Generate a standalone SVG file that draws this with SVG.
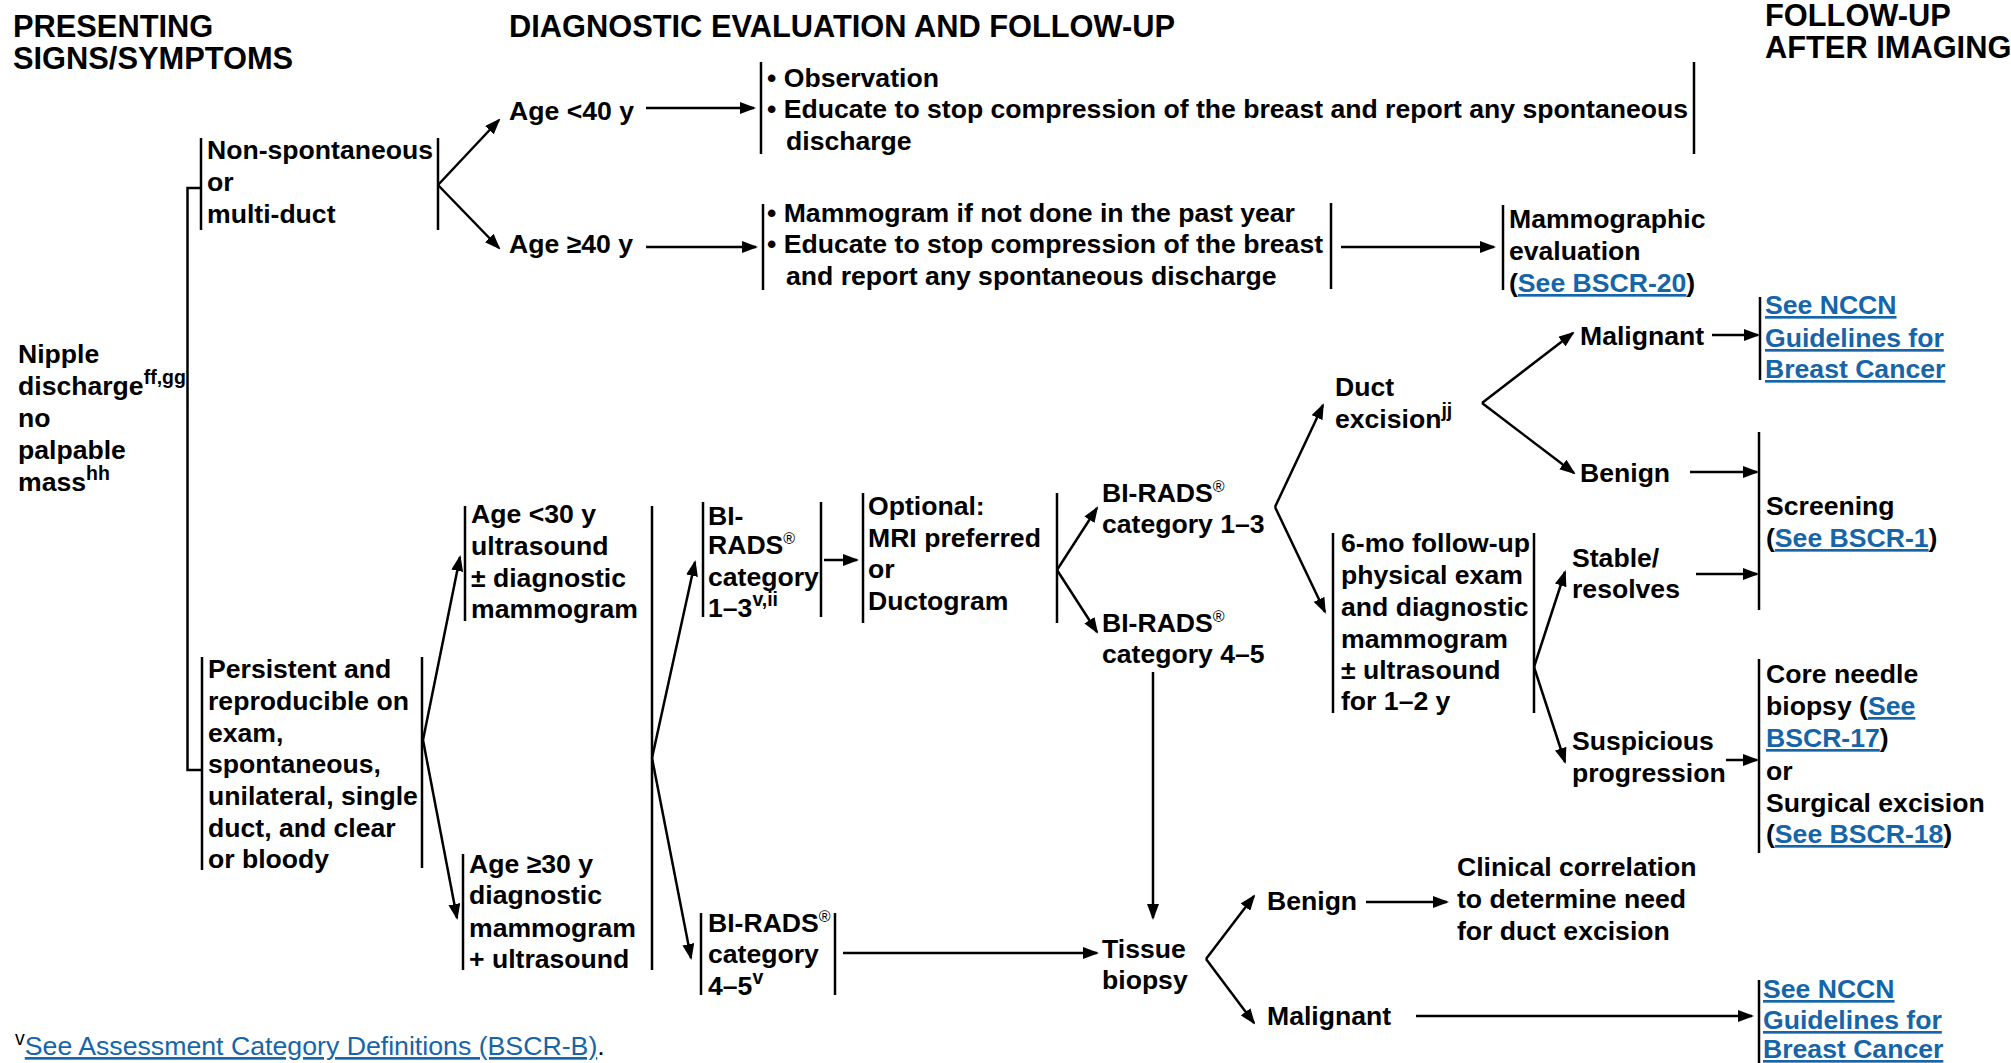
<svg xmlns="http://www.w3.org/2000/svg" width="2011" height="1063" viewBox="0 0 2011 1063">
<defs>
<style>
text{font-family:"Liberation Sans",Arial,Helvetica,sans-serif;font-weight:bold;font-size:26.6px;fill:#000}
.h{font-size:30.8px}
.lk{fill:#1565a8;text-decoration:underline}
.sup{font-size:19.5px}
.reg{font-size:16px;font-weight:normal}
.fn{font-weight:normal;font-size:26.7px}
.br{stroke:#000;stroke-width:2.5;fill:none}
.c line,.c path{stroke:#000;stroke-width:2.5;fill:none}
.a{marker-end:url(#ah)}
</style>
<marker id="ah" markerUnits="userSpaceOnUse" markerWidth="16" markerHeight="12" refX="14" refY="6" orient="auto"><path d="M0,0 L16,6 L0,12 z" fill="#000"/></marker>
</defs>
<rect width="2011" height="1063" fill="#fff"/>

<g id="headers">
<text class="h" x="13" y="37">PRESENTING</text>
<text class="h" x="13" y="69">SIGNS/SYMPTOMS</text>
<text class="h" x="509" y="37">DIAGNOSTIC EVALUATION AND FOLLOW-UP</text>
<text class="h" x="1765" y="26">FOLLOW-UP</text>
<text class="h" x="1765" y="58">AFTER IMAGING</text>
</g>

<g id="n-root">
<text x="18" y="363">Nipple</text>
<text x="18" y="395">discharge<tspan class="sup" dy="-11">ff,gg</tspan></text>
<text x="18" y="427">no</text>
<text x="18" y="459">palpable</text>
<text x="18" y="491">mass<tspan class="sup" dy="-11">hh</tspan></text>
</g>

<g id="n-nonspont">
<line class="br" x1="201" y1="138" x2="201" y2="230"/>
<text x="207" y="159">Non-spontaneous</text>
<text x="207" y="191">or</text>
<text x="207" y="223">multi-duct</text>
<line class="br" x1="438" y1="138" x2="438" y2="230"/>
</g>

<g id="n-age-lt40"><text x="509" y="120">Age &lt;40 y</text></g>
<g id="n-age-ge40"><text x="509" y="253">Age ≥40 y</text></g>

<g id="n-observation">
<line class="br" x1="761" y1="62" x2="761" y2="154"/>
<text x="767" y="87">• Observation</text>
<text x="767" y="118">• Educate to stop compression of the breast and report any spontaneous</text>
<text x="786" y="150">discharge</text>
<line class="br" x1="1694" y1="62" x2="1694" y2="154"/>
</g>

<g id="n-mammogram">
<line class="br" x1="763" y1="204" x2="763" y2="290"/>
<text x="767" y="222">• Mammogram if not done in the past year</text>
<text x="767" y="253">• Educate to stop compression of the breast</text>
<text x="786" y="285">and report any spontaneous discharge</text>
<line class="br" x1="1331" y1="203" x2="1331" y2="289"/>
</g>

<g id="n-mammo-eval">
<line class="br" x1="1503" y1="205" x2="1503" y2="290"/>
<text x="1509" y="228">Mammographic</text>
<text x="1509" y="260">evaluation</text>
<text x="1509" y="292">(<tspan class="lk">See BSCR-20</tspan>)</text>
</g>

<g id="n-persistent">
<line class="br" x1="202" y1="657" x2="202" y2="870"/>
<text x="208" y="678">Persistent and</text>
<text x="208" y="710">reproducible on</text>
<text x="208" y="742">exam,</text>
<text x="208" y="773">spontaneous,</text>
<text x="208" y="805">unilateral, single</text>
<text x="208" y="837">duct, and clear</text>
<text x="208" y="868">or bloody</text>
<line class="br" x1="422" y1="657" x2="422" y2="868"/>
</g>

<g id="n-age-lt30">
<line class="br" x1="465" y1="506" x2="465" y2="621"/>
<text x="471" y="523">Age &lt;30 y</text>
<text x="471" y="555">ultrasound</text>
<text x="471" y="587">± diagnostic</text>
<text x="471" y="618">mammogram</text>
</g>

<g id="n-age-ge30">
<line class="br" x1="463" y1="854" x2="463" y2="970"/>
<text x="469" y="873">Age ≥30 y</text>
<text x="469" y="904">diagnostic</text>
<text x="469" y="937">mammogram</text>
<text x="469" y="968">+ ultrasound</text>
</g>

<g id="n-birads13-a">
<line class="br" x1="703" y1="502" x2="703" y2="617"/>
<text x="708" y="525">BI-</text>
<text x="708" y="554">RADS<tspan class="reg" dy="-10">®</tspan></text>
<text x="708" y="586">category</text>
<text x="708" y="617">1–3<tspan class="sup" dy="-11">v,ii</tspan></text>
<line class="br" x1="821" y1="502" x2="821" y2="617"/>
</g>

<g id="n-optional">
<line class="br" x1="863" y1="493" x2="863" y2="623"/>
<text x="868" y="515">Optional:</text>
<text x="868" y="547">MRI preferred</text>
<text x="868" y="578">or</text>
<text x="868" y="610">Ductogram</text>
<line class="br" x1="1057" y1="493" x2="1057" y2="623"/>
</g>

<g id="n-birads13-b">
<text x="1102" y="502">BI-RADS<tspan class="reg" dy="-10">®</tspan></text>
<text x="1102" y="533">category 1–3</text>
</g>

<g id="n-birads45-b">
<text x="1102" y="632">BI-RADS<tspan class="reg" dy="-10">®</tspan></text>
<text x="1102" y="663">category 4–5</text>
</g>

<g id="n-duct-excision">
<text x="1335" y="396">Duct</text>
<text x="1335" y="428">excision<tspan class="sup" dy="-11">jj</tspan></text>
</g>

<g id="n-malignant-1"><text x="1580" y="345">Malignant</text></g>

<g id="n-nccn-1">
<line class="br" x1="1760" y1="297" x2="1760" y2="380"/>
<text class="lk" x="1765" y="314">See NCCN</text>
<text class="lk" x="1765" y="347">Guidelines for</text>
<text class="lk" x="1765" y="378">Breast Cancer</text>
</g>

<g id="n-benign-1"><text x="1580" y="482">Benign</text></g>

<g id="n-screening">
<line class="br" x1="1759" y1="432" x2="1759" y2="610"/>
<text x="1766" y="515">Screening</text>
<text x="1766" y="547">(<tspan class="lk">See BSCR-1</tspan>)</text>
</g>

<g id="n-followup">
<line class="br" x1="1333" y1="533" x2="1333" y2="713"/>
<text x="1341" y="552">6-mo follow-up</text>
<text x="1341" y="584">physical exam</text>
<text x="1341" y="616">and diagnostic</text>
<text x="1341" y="648">mammogram</text>
<text x="1341" y="679">± ultrasound</text>
<text x="1341" y="710">for 1–2 y</text>
<line class="br" x1="1534" y1="533" x2="1534" y2="713"/>
</g>

<g id="n-stable">
<text x="1572" y="567">Stable/</text>
<text x="1572" y="598">resolves</text>
</g>

<g id="n-suspicious">
<text x="1572" y="750">Suspicious</text>
<text x="1572" y="782">progression</text>
</g>

<g id="n-core">
<line class="br" x1="1759" y1="659" x2="1759" y2="853"/>
<text x="1766" y="683">Core needle</text>
<text x="1766" y="715">biopsy (<tspan class="lk">See </tspan></text>
<text x="1766" y="747"><tspan class="lk">BSCR-17</tspan>)</text>
<text x="1766" y="780">or</text>
<text x="1766" y="812">Surgical excision</text>
<text x="1766" y="843">(<tspan class="lk">See BSCR-18</tspan>)</text>
</g>

<g id="n-birads45-a">
<line class="br" x1="701" y1="913" x2="701" y2="995"/>
<text x="708" y="932">BI-RADS<tspan class="reg" dy="-10">®</tspan></text>
<text x="708" y="963">category</text>
<text x="708" y="995">4–5<tspan class="sup" dy="-11">v</tspan></text>
<line class="br" x1="835" y1="913" x2="835" y2="995"/>
</g>

<g id="n-tissue">
<text x="1102" y="958">Tissue</text>
<text x="1102" y="989">biopsy</text>
</g>

<g id="n-benign-2"><text x="1267" y="910">Benign</text></g>

<g id="n-clinical">
<text x="1457" y="876">Clinical correlation</text>
<text x="1457" y="908">to determine need</text>
<text x="1457" y="940">for duct excision</text>
</g>

<g id="n-malignant-2"><text x="1267" y="1025">Malignant</text></g>

<g id="n-nccn-2">
<line class="br" x1="1759" y1="980" x2="1759" y2="1063"/>
<text class="lk" x="1763" y="998">See NCCN </text>
<text class="lk" x="1763" y="1029">Guidelines for </text>
<text class="lk" x="1763" y="1058">Breast Cancer</text>
</g>

<g id="footnote">
<text class="fn" x="15" y="1055"><tspan class="sup" dy="-10">v</tspan><tspan class="lk" dy="10">See Assessment Category Definitions (BSCR-B)</tspan>.</text>
</g>

<g id="connectors" class="c">
<path d="M201,188 H187.5 V770 H202"/>
<line class="a" x1="438" y1="185" x2="499" y2="120"/>
<line class="a" x1="438" y1="185" x2="499" y2="248"/>
<line class="a" x1="646" y1="108" x2="754" y2="108"/>
<line class="a" x1="646" y1="247" x2="756" y2="247"/>
<line class="a" x1="1341" y1="247" x2="1494" y2="247"/>
<line class="a" x1="423" y1="740" x2="460" y2="557"/>
<line class="a" x1="423" y1="740" x2="457" y2="918"/>
<line x1="652" y1="506" x2="652" y2="970"/>
<line class="a" x1="652" y1="758" x2="695" y2="562"/>
<line class="a" x1="652" y1="758" x2="691" y2="958"/>
<line class="a" x1="824" y1="560" x2="857" y2="560"/>
<line class="a" x1="1057" y1="570" x2="1097" y2="508"/>
<line class="a" x1="1057" y1="570" x2="1097" y2="632"/>
<line class="a" x1="1153" y1="672" x2="1153" y2="918"/>
<line class="a" x1="1275" y1="507" x2="1323" y2="405"/>
<line class="a" x1="1275" y1="507" x2="1325" y2="612"/>
<line class="a" x1="1482" y1="403" x2="1573" y2="333"/>
<line class="a" x1="1482" y1="403" x2="1574" y2="473"/>
<line class="a" x1="1712" y1="335" x2="1758" y2="335"/>
<line class="a" x1="1690" y1="472" x2="1757" y2="472"/>
<line class="a" x1="1534" y1="667" x2="1565" y2="572"/>
<line class="a" x1="1534" y1="667" x2="1565" y2="762"/>
<line class="a" x1="1696" y1="574" x2="1757" y2="574"/>
<line class="a" x1="1726" y1="760" x2="1757" y2="760"/>
<line class="a" x1="843" y1="953" x2="1097" y2="953"/>
<line class="a" x1="1206" y1="959" x2="1254" y2="896"/>
<line class="a" x1="1206" y1="959" x2="1254" y2="1023"/>
<line class="a" x1="1366" y1="902" x2="1447" y2="902"/>
<line class="a" x1="1416" y1="1016" x2="1752" y2="1016"/>
</g>
</svg>
